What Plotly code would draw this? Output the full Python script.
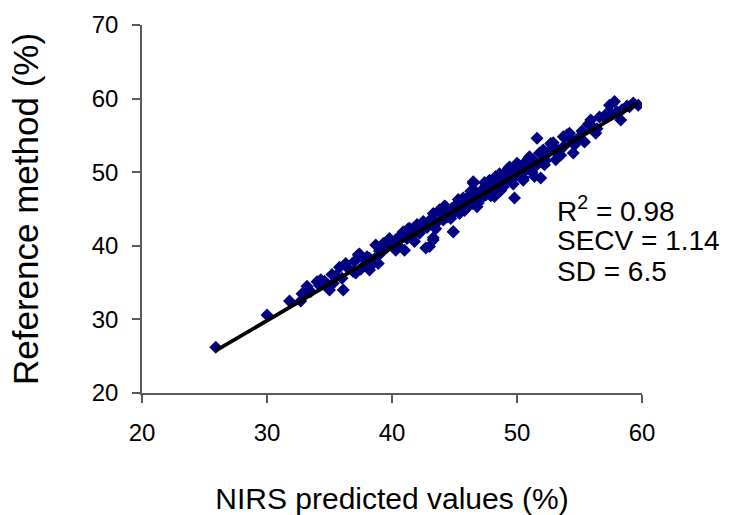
import plotly.graph_objects as go

# NIRS predicted values (%) and reference method values (%)
nirs_pred = [
    25.9, 30.0, 31.8, 32.8, 32.7, 34.0, 34.3, 35.0, 35.8, 36.1,
    35.3, 37.1, 37.3, 37.7, 38.2, 38.7, 39.3, 38.9, 38.5, 40.3,
    40.3, 41.0, 40.9, 41.4, 41.9, 42.2, 42.7, 43.3, 43.0, 43.3,
    43.8, 44.3, 44.1, 44.9, 44.6, 45.4, 45.3, 45.7, 46.5, 46.8,
    47.0, 47.6, 47.8, 48.2, 48.6, 48.9, 49.4, 49.8, 50.0, 49.8,
    50.5, 51.0, 51.4, 51.6, 51.9, 52.1, 52.7, 53.1, 53.7, 54.2,
    54.5, 55.4, 55.9, 56.3, 56.6, 57.4, 57.8, 58.3, 59.0, 59.7,
    38.0, 38.6, 39.1, 39.6, 40.0, 40.6, 41.2, 41.7, 42.0, 42.4,
    42.8, 43.1, 43.6, 44.0, 44.4, 44.8, 45.0, 45.6, 45.9, 46.2,
    46.4, 46.7, 47.0, 47.3, 47.5, 47.8, 48.0, 48.2, 48.4, 48.6,
    48.8, 49.0, 49.2, 49.4, 49.6, 49.8, 50.0, 50.2, 50.4, 50.6,
    50.8, 51.0, 51.3, 51.6, 52.0, 52.3, 52.6, 53.0, 53.4, 53.8,
    54.3, 54.8, 55.2, 56.0, 57.0, 57.6, 58.4, 59.3, 36.5, 36.9,
    37.8, 36.0, 35.5, 34.6, 33.5, 43.0, 43.3, 44.9, 46.5, 37.4,
    38.2, 39.0, 38.5, 45.2, 46.1, 47.2, 49.1, 50.9, 52.8, 53.3,
    39.8, 40.5, 41.3, 41.8, 42.5, 43.5, 44.2, 44.7, 45.3, 45.8,
    46.3, 46.9, 47.4, 47.9, 48.3, 48.7, 49.3, 49.7, 50.1, 50.5,
    50.9, 51.2, 51.8, 52.2, 52.9, 53.5, 54.0, 54.6, 55.0, 55.7,
    56.4, 57.2, 58.0, 58.8, 37.0, 37.5, 36.3, 35.2, 34.2, 33.2,
]
ref_method = [
    26.2, 30.6, 32.5, 33.5, 32.5, 35.1, 35.4, 34.0, 37.1, 34.0,
    34.9, 36.3, 38.8, 38.3, 36.7, 40.1, 40.3, 37.6, 37.6, 40.8,
    39.4, 39.4, 41.9, 42.4, 42.6, 41.7, 39.7, 40.8, 43.1, 44.4,
    44.9, 45.3, 43.5, 41.9, 44.0, 44.4, 45.8, 46.5, 48.5, 45.3,
    46.7, 47.4, 48.9, 46.7, 49.8, 48.0, 50.7, 50.3, 51.2, 46.5,
    48.9, 52.1, 49.4, 54.6, 49.2, 53.0, 53.9, 51.7, 54.8, 55.3,
    52.6, 54.1, 57.1, 55.3, 57.5, 59.1, 59.6, 57.1, 58.9, 59.1,
    38.5, 38.2, 39.0, 39.8, 40.1, 41.3, 41.0, 41.6, 42.9, 42.2,
    42.5, 43.6, 43.2, 44.3, 43.9, 45.1, 44.6, 45.2, 46.0, 46.8,
    45.7, 47.3, 46.2, 47.8, 46.9, 47.6, 48.3, 47.8, 48.8, 48.1,
    49.2, 48.6, 49.6, 49.0, 50.1, 49.3, 50.4, 49.8, 50.9, 50.1,
    51.3, 50.6, 51.7, 51.0, 52.4, 51.6, 52.8, 53.4, 52.9, 53.6,
    54.5, 54.2, 55.6, 56.2, 57.4, 57.9, 58.5, 59.4, 36.9, 36.5,
    37.4, 35.6, 35.9, 35.2, 33.8, 39.9, 41.1, 41.9, 48.7, 38.9,
    38.3, 39.3, 38.0, 45.6, 45.4, 47.0, 50.0, 51.8, 53.7, 52.4,
    41.0, 40.0, 42.3, 40.6, 43.3, 42.3, 45.4, 43.7, 46.3, 44.8,
    47.4, 45.8, 48.6, 46.8, 49.4, 47.5, 50.5, 48.4, 51.0, 49.2,
    51.8, 50.0, 52.6, 51.0, 54.0, 52.3, 55.1, 53.7, 54.8, 56.5,
    55.9, 58.0, 58.2, 59.0, 37.9, 36.8, 37.6, 36.1, 34.6, 34.5,
]

# Regression line end points
fit_x = [25.9, 59.7]
fit_y = [25.75, 59.4]

x_ticks = [20, 30, 40, 50, 60]
y_ticks = [20, 30, 40, 50, 60, 70]

x_title = "NIRS predicted values (%)"
y_title = "Reference method (%)"
stats_lines = ["R<sup>2</sup> = 0.98", "SECV = 1.14", "SD = 6.5"]

FONT = "Liberation Sans, Arial, sans-serif"
AXC = "#5a5a5a"

fig = go.Figure()
fig.add_trace(go.Scatter(
    x=nirs_pred, y=ref_method, mode="markers",
    marker=dict(symbol="diamond", size=10, color="#000080", line=dict(width=0)),
    showlegend=False, hoverinfo="x+y",
))
fig.add_trace(go.Scatter(
    x=fit_x, y=fit_y, mode="lines",
    line=dict(color="black", width=3.8),
    showlegend=False, hoverinfo="skip",
))

L, R, T, B = 142, 103, 25, 122
W, H = 745, 515
pw, ph = W - L - R, H - T - B

fig.update_layout(
    width=W, height=H,
    margin=dict(l=L, r=R, t=T, b=B, pad=0),
    paper_bgcolor="white", plot_bgcolor="white",
    font=dict(family=FONT, color="black"),
    xaxis=dict(
        range=[20, 60], tickvals=x_ticks, showgrid=False, zeroline=False,
        showline=True, linecolor=AXC, linewidth=1.5, automargin=False,
        ticks="outside", ticklen=8, tickwidth=1.5, tickcolor=AXC,
        tickfont=dict(size=24, family=FONT, color="black"),
        ticklabelstandoff=9,
        title=dict(text=x_title, standoff=43,
                   font=dict(size=30, family=FONT, color="black")),
    ),
    yaxis=dict(
        range=[20, 70], tickvals=y_ticks, showgrid=False, zeroline=False,
        showline=True, linecolor=AXC, linewidth=1.5, automargin=False,
        ticks="outside", ticklen=8, tickwidth=1.5, tickcolor=AXC,
        tickfont=dict(size=24, family=FONT, color="black"),
        ticklabelstandoff=9,
        title=dict(text=y_title, standoff=42,
                   font=dict(size=35, family=FONT, color="black")),
    ),
)

annotations = []
centers = [208.5, 240, 271.5]
for txt, cy in zip(stats_lines, centers):
    annotations.append(dict(
        text=txt, xref="paper", yref="paper",
        x=(556 - L) / pw, y=(393 - cy) / ph, xanchor="left", yanchor="middle",
        showarrow=False, borderpad=0,
        font=dict(size=28, family=FONT, color="black"),
    ))
fig.update_layout(annotations=annotations)

fig.write_html("out.html")
